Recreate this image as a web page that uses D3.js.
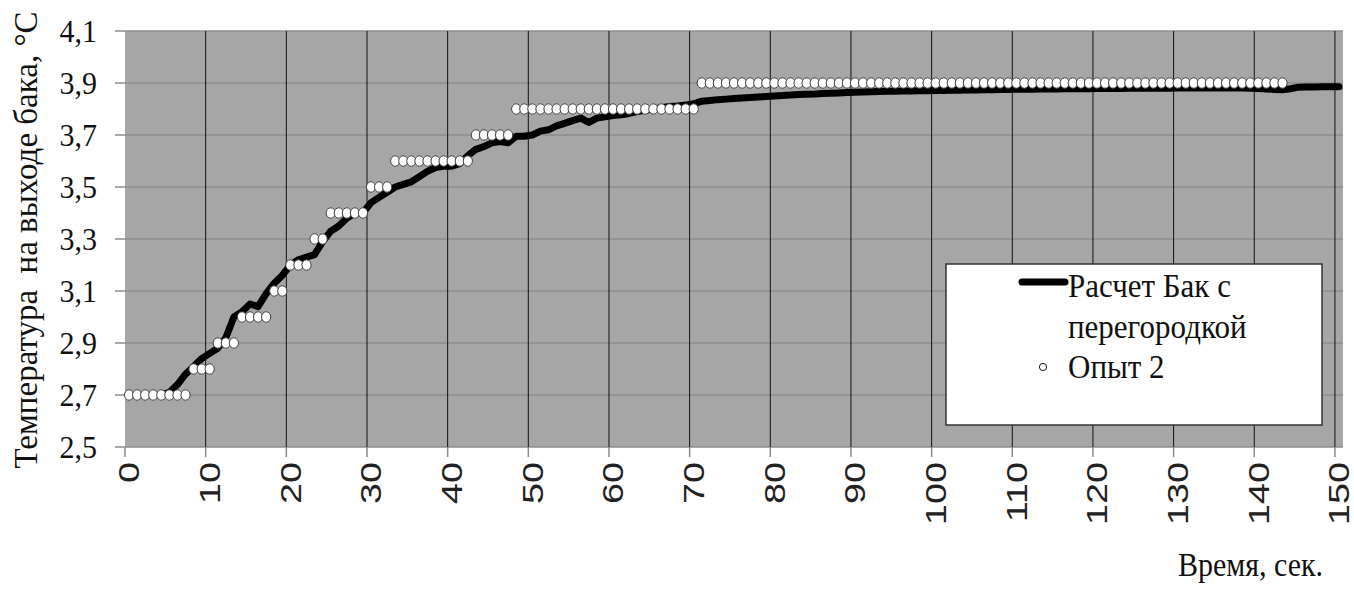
<!DOCTYPE html>
<html>
<head>
<meta charset="utf-8">
<script src="https://cdn.jsdelivr.net/npm/d3@7"></script>
<style>
  html, body { margin: 0; padding: 0; background: #ffffff; }
  svg { display: block; }
</style>
</head>
<body>
<svg id="chart" width="1354" height="593"></svg>
<script>
// ---------- DATA ----------
const times = d3.range(0, 151); // categories 0..150 s
const xTickLabels = [0, 10, 20, 30, 40, 50, 60, 70, 80, 90, 100, 110, 120, 130, 140, 150];
const yTicks = [2.5, 2.7, 2.9, 3.1, 3.3, 3.5, 3.7, 3.9, 4.1];

// "Расчет Бак с перегородкой" (one value per second, 0..150)
const calcValues = [
  2.70, 2.70, 2.70, 2.70, 2.70, 2.71, 2.74, 2.78, 2.81, 2.84,
  2.86, 2.88, 2.92, 3.00, 3.02, 3.05, 3.04, 3.09, 3.13, 3.16,
  3.20, 3.22, 3.23, 3.24, 3.29, 3.33, 3.35, 3.38, 3.40, 3.40,
  3.44, 3.46, 3.48, 3.50, 3.51, 3.52, 3.54, 3.56, 3.575, 3.58,
  3.58, 3.59, 3.62, 3.645, 3.655, 3.67, 3.675, 3.67, 3.695, 3.695,
  3.70, 3.715, 3.72, 3.735, 3.745, 3.755, 3.765, 3.748, 3.765, 3.77,
  3.775, 3.778, 3.783, 3.79, 3.795, 3.80, 3.805, 3.81, 3.812, 3.815,
  3.82, 3.83, 3.833, 3.836, 3.838, 3.84, 3.842, 3.844, 3.846, 3.848,
  3.850, 3.852, 3.854, 3.856, 3.857, 3.858, 3.860, 3.861, 3.862, 3.863,
  3.864, 3.865, 3.866, 3.867, 3.868, 3.868, 3.869, 3.869, 3.870, 3.870,
  3.871, 3.871, 3.872, 3.872, 3.873, 3.873, 3.874, 3.874, 3.875, 3.875,
  3.876, 3.876, 3.876, 3.877, 3.877, 3.877, 3.878, 3.878, 3.878, 3.878,
  3.879, 3.879, 3.879, 3.879, 3.880, 3.880, 3.880, 3.880, 3.880, 3.880,
  3.881, 3.881, 3.881, 3.881, 3.881, 3.881, 3.881, 3.881, 3.881, 3.880,
  3.879, 3.877, 3.875, 3.874, 3.878, 3.884, 3.885, 3.885, 3.886, 3.886,
  3.886
];

// "Опыт 2" (one value per second, 0..143)
const expValues = [
  2.7, 2.7, 2.7, 2.7, 2.7, 2.7, 2.7, 2.7,
  2.8, 2.8, 2.8,
  2.9, 2.9, 2.9,
  3.0, 3.0, 3.0, 3.0,
  3.1, 3.1,
  3.2, 3.2, 3.2,
  3.3, 3.3,
  3.4, 3.4, 3.4, 3.4, 3.4,
  3.5, 3.5, 3.5,
  3.6, 3.6, 3.6, 3.6, 3.6, 3.6, 3.6, 3.6, 3.6, 3.6,
  3.7, 3.7, 3.7, 3.7, 3.7,
  3.8, 3.8, 3.8, 3.8, 3.8, 3.8, 3.8, 3.8, 3.8, 3.8,
  3.8, 3.8, 3.8, 3.8, 3.8, 3.8, 3.8, 3.8, 3.8, 3.8,
  3.8, 3.8, 3.8,
  3.9, 3.9, 3.9, 3.9, 3.9, 3.9, 3.9, 3.9, 3.9, 3.9,
  3.9, 3.9, 3.9, 3.9, 3.9, 3.9, 3.9, 3.9, 3.9, 3.9,
  3.9, 3.9, 3.9, 3.9, 3.9, 3.9, 3.9, 3.9, 3.9, 3.9,
  3.9, 3.9, 3.9, 3.9, 3.9, 3.9, 3.9, 3.9, 3.9, 3.9,
  3.9, 3.9, 3.9, 3.9, 3.9, 3.9, 3.9, 3.9, 3.9, 3.9,
  3.9, 3.9, 3.9, 3.9, 3.9, 3.9, 3.9, 3.9, 3.9, 3.9,
  3.9, 3.9, 3.9, 3.9, 3.9, 3.9, 3.9, 3.9, 3.9, 3.9,
  3.9, 3.9, 3.9
];

const seriesNames = ["Расчет Бак с", "перегородкой", "Опыт 2"];
const xTitle = "Время, сек.";
const yTitle = "Температура  на выходе бака, °С";

// ---------- LAYOUT ----------
const plot = { left: 125, right: 1343, top: 31, bottom: 447 };
const svg = d3.select("#chart");

const x = d3.scaleBand().domain(times).range([plot.left, plot.right]).paddingInner(0).paddingOuter(0);
const y = d3.scaleLinear().domain([2.5, 4.1]).range([plot.bottom, plot.top]);
const cx = t => x(t) + x.bandwidth() / 2;

// plot background
svg.append("rect")
  .attr("x", plot.left).attr("y", plot.top)
  .attr("width", plot.right - plot.left).attr("height", plot.bottom - plot.top)
  .attr("fill", "#a6a6a6");

// horizontal gridlines + y ticks
svg.append("g").selectAll("line").data(yTicks).join("line")
  .attr("x1", plot.left - 10).attr("x2", plot.right)
  .attr("y1", d => y(d)).attr("y2", d => y(d))
  .attr("stroke", "#8c8c8c").attr("stroke-width", 1.5);

// vertical gridlines (black) at category boundaries
svg.append("g").selectAll("line").data(xTickLabels.filter(d => d > 0)).join("line")
  .attr("x1", d => x(d)).attr("x2", d => x(d))
  .attr("y1", plot.top).attr("y2", plot.bottom)
  .attr("stroke", "#111").attr("stroke-width", 1);

// x tick marks (below axis)
svg.append("g").selectAll("line").data(xTickLabels).join("line")
  .attr("x1", d => x(d)).attr("x2", d => x(d))
  .attr("y1", plot.bottom).attr("y2", plot.bottom + 10)
  .attr("stroke", "#8c8c8c").attr("stroke-width", 1.5);

// y tick labels
svg.append("g").selectAll("text").data(yTicks).join("text")
  .attr("transform", d => `translate(97,${y(d) + 11}) scale(1,1.08)`)
  .attr("text-anchor", "end")
  .attr("font-family", "'Liberation Serif', 'Times New Roman', serif")
  .attr("font-size", 30).attr("fill", "#111")
  .text(d => d.toFixed(1).replace(".", ","));

// x tick labels (rotated)
svg.append("g").selectAll("text").data(xTickLabels).join("text")
  .attr("transform", d => `translate(${cx(d)},${plot.bottom + 15}) rotate(-90) scale(1.3,1)`)
  .attr("dy", "0.36em")
  .attr("text-anchor", "end")
  .attr("font-family", "'Liberation Sans', Arial, sans-serif")
  .attr("font-size", 29).attr("fill", "#222")
  .text(d => d);

// calc line
const line = d3.line().x((d, i) => cx(times[i])).y(d => y(d));
svg.append("path")
  .datum(calcValues)
  .attr("d", line)
  .attr("fill", "none").attr("stroke", "#000")
  .attr("stroke-width", 7).attr("stroke-linejoin", "round").attr("stroke-linecap", "round");

// experiment markers
svg.append("g").selectAll("ellipse").data(expValues).join("ellipse")
  .attr("cx", (d, i) => cx(times[i])).attr("cy", d => y(d))
  .attr("rx", 4.6).attr("ry", 5.2)
  .attr("fill", "#fff").attr("stroke", "#444").attr("stroke-width", 1);

// axis titles
svg.append("text")
  .attr("transform", "translate(37,240) rotate(-90) scale(1,1.05)")
  .attr("text-anchor", "middle")
  .attr("font-family", "'Liberation Serif', 'Times New Roman', serif")
  .attr("font-size", 33).attr("fill", "#111")
  .attr("xml:space", "preserve").style("white-space", "pre")
  .text(yTitle);

svg.append("text")
  .attr("transform", "translate(1323,576) scale(1,1.1)")
  .attr("text-anchor", "end")
  .attr("font-family", "'Liberation Serif', 'Times New Roman', serif")
  .attr("font-size", 30).attr("fill", "#111")
  .text(xTitle);

// legend
const lg = svg.append("g");
lg.append("rect")
  .attr("x", 946).attr("y", 264).attr("width", 376).attr("height", 161)
  .attr("fill", "#fff").attr("stroke", "#333").attr("stroke-width", 1.5);
lg.append("line")
  .attr("x1", 1022).attr("x2", 1065).attr("y1", 282).attr("y2", 282)
  .attr("stroke", "#000").attr("stroke-width", 7).attr("stroke-linecap", "round");
lg.append("circle")
  .attr("cx", 1043).attr("cy", 367).attr("r", 3.6)
  .attr("fill", "#fff").attr("stroke", "#111").attr("stroke-width", 1);
const legY = [297, 338, 378];
lg.selectAll("text").data(seriesNames).join("text")
  .attr("transform", (d, i) => `translate(1068,${legY[i]}) scale(1,1.12)`)
  .attr("font-family", "'Liberation Serif', 'Times New Roman', serif")
  .attr("font-size", 31).attr("fill", "#111")
  .text(d => d);
</script>
</body>
</html>
